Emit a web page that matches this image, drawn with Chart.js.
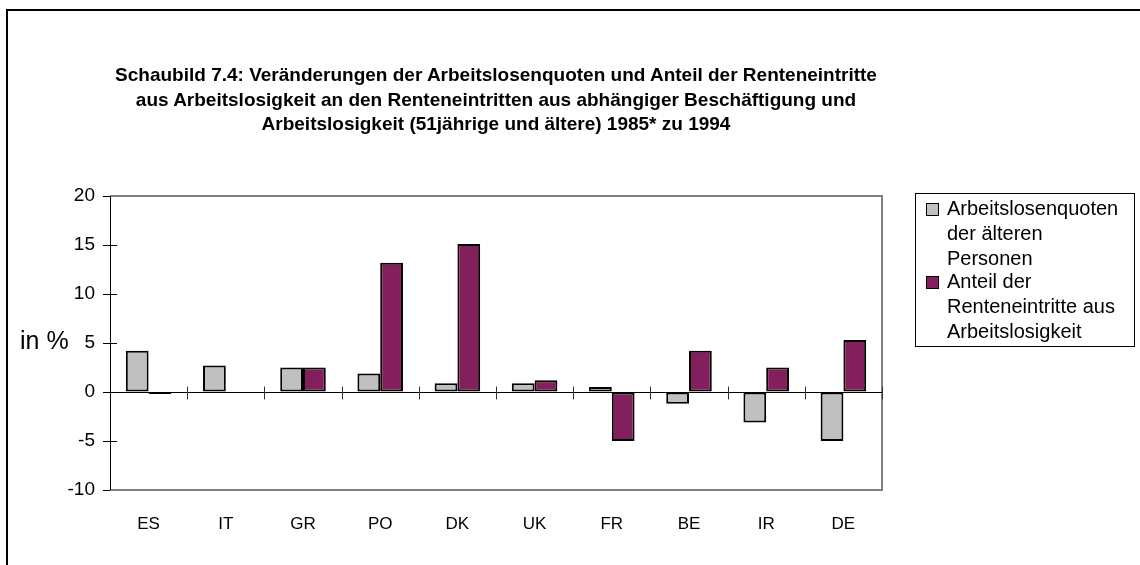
<!DOCTYPE html>
<html>
<head>
<meta charset="utf-8">
<script src="https://cdn.jsdelivr.net/npm/chart.js@4.4.1/dist/chart.umd.min.js"></script>
<style>
  html,body{margin:0;padding:0;background:#fff;}
  body{width:1140px;height:565px;overflow:hidden;position:relative;font-family:"Liberation Sans",Arial,sans-serif;color:#000;}
  #frame{position:absolute;left:6px;top:9px;width:1300px;height:700px;border-left:2px solid #000;border-top:2px solid #000;}
  #cv{position:absolute;left:0;top:0;}
  #title{position:absolute;left:0;top:63px;width:992px;text-align:center;font-weight:bold;font-size:19px;line-height:24.5px;}
  #ylab{position:absolute;left:20px;top:326px;font-size:25px;line-height:28px;white-space:nowrap;}
  #legend{position:absolute;left:915px;top:193px;width:220px;height:154px;border:1px solid #000;box-sizing:border-box;}
  .lg-item{position:absolute;left:0;width:220px;}
  .lg-box{position:absolute;left:10px;width:13px;height:13px;border:1px solid #000;box-sizing:border-box;}
  .lg-text{position:absolute;left:31px;font-size:20px;line-height:25px;white-space:nowrap;}
</style>
</head>
<body>
<div id="frame"></div>
<canvas id="cv" width="1140" height="565"></canvas>
<div id="title"></div>
<div id="ylab"></div>
<div id="legend"></div>
<script>
// ---- data ----
const categories = ['ES', 'IT', 'GR', 'PO', 'DK', 'UK', 'FR', 'BE', 'IR', 'DE'];
const unemploymentChange = [4.2, 2.7, 2.5, 1.9, 0.9, 0.9, 0.5, -1.2, -3.1, -5.0];
const retirementShare = [-0.2, null, 2.5, 13.2, 15.1, 1.2, -5.0, 4.2, 2.5, 5.3];
const yTickValues = [-10, -5, 0, 5, 10, 15, 20];
const seriesNames = [
  ['Arbeitslosenquoten', 'der älteren', 'Personen'],
  ['Anteil der', 'Renteneintritte aus', 'Arbeitslosigkeit']
];
const titleLines = [
  'Schaubild 7.4: Veränderungen der Arbeitslosenquoten und Anteil der Renteneintritte',
  'aus Arbeitslosigkeit an den Renteneintritten aus abhängiger Beschäftigung und',
  'Arbeitslosigkeit (51jährige und ältere) 1985* zu 1994'
];
const yAxisLabel = 'in %';
const colors = ['#C0C0C0', '#841F5D'];

// ---- text ----
document.getElementById('title').innerHTML = titleLines.map(t => '<div>' + t + '</div>').join('');
document.getElementById('ylab').textContent = yAxisLabel;
const legendEl = document.getElementById('legend');
const itemTops = [2, 75];
seriesNames.forEach((lines, i) => {
  const item = document.createElement('div');
  item.className = 'lg-item';
  item.style.top = itemTops[i] + 'px';
  const box = document.createElement('div');
  box.className = 'lg-box';
  box.style.top = '7px';
  box.style.background = colors[i];
  const txt = document.createElement('div');
  txt.className = 'lg-text';
  txt.style.top = '0px';
  txt.innerHTML = lines.map(l => '<div>' + l + '</div>').join('');
  item.appendChild(box);
  item.appendChild(txt);
  legendEl.appendChild(item);
});

// ---- plugin: plot frame, zero line with category ticks, y ticks ----
const decor = {
  id: 'decor',
  afterDatasetsDraw(chart) {
    const { ctx, chartArea: a, scales: { x, y } } = chart;
    ctx.save();
    ctx.strokeStyle = '#808080';
    ctx.lineWidth = 2;
    ctx.beginPath();
    ctx.moveTo(a.left, a.top);
    ctx.lineTo(a.right, a.top);
    ctx.lineTo(a.right, a.bottom);
    ctx.lineTo(a.left, a.bottom);
    ctx.stroke();
    ctx.strokeStyle = '#000';
    ctx.lineWidth = 1;
    ctx.beginPath();
    ctx.moveTo(a.left + 0.5, a.top);
    ctx.lineTo(a.left + 0.5, a.bottom);
    ctx.stroke();
    yTickValues.forEach(v => {
      const py = Math.round(y.getPixelForValue(v)) + 0.5;
      const edge = v === yTickValues[yTickValues.length - 1] || v === yTickValues[0];
      ctx.beginPath();
      ctx.moveTo(a.left - 7, py);
      ctx.lineTo(edge ? a.left : a.left + 7, py);
      ctx.stroke();
    });
    const y0 = Math.round(y.getPixelForValue(0)) + 0.5;
    ctx.beginPath();
    ctx.moveTo(a.left, y0);
    ctx.lineTo(a.right, y0);
    ctx.stroke();
    ctx.strokeStyle = '#333';
    const n = categories.length;
    const step = x.getPixelForValue(1) - x.getPixelForValue(0);
    for (let i = 1; i <= n; i++) {
      const px = Math.round(x.getPixelForValue(i - 1) + step / 2) + 0.5;
      ctx.beginPath();
      ctx.moveTo(px, y0 - 6);
      ctx.lineTo(px, y0 + 7);
      ctx.stroke();
    }
    ctx.restore();
  }
};

new Chart(document.getElementById('cv'), {
  type: 'bar',
  data: {
    labels: categories,
    datasets: [
      { label: seriesNames[0].join(' '), data: unemploymentChange, backgroundColor: colors[0], borderColor: '#000', borderWidth: 2, borderSkipped: false },
      { label: seriesNames[1].join(' '), data: retirementShare, backgroundColor: colors[1], borderColor: '#000', borderWidth: 2, borderSkipped: false }
    ]
  },
  options: {
    responsive: false,
    animation: false,
    devicePixelRatio: 1,
    layout: { padding: { left: 50, top: 196, right: 258, bottom: 0 } },
    plugins: { legend: { display: false }, tooltip: { enabled: false }, title: { display: false } },
    datasets: { bar: { categoryPercentage: 0.59, barPercentage: 1.0 } },
    scales: {
      x: {
        grid: { display: false },
        border: { display: false },
        ticks: { color: '#000', font: { family: '"Liberation Sans", Arial, sans-serif', size: 17 }, padding: 16, maxRotation: 0, autoSkip: false },
        afterFit: s => { s.height = 75; }
      },
      y: {
        min: -10, max: 20,
        grid: { display: true, drawOnChartArea: false, drawTicks: false },
        border: { display: false },
        ticks: { stepSize: 5, color: '#000', font: { family: '"Liberation Sans", Arial, sans-serif', size: 19 }, padding: 15 },
        afterFit: s => { s.width = 60; }
      }
    }
  },
  plugins: [decor]
});
</script>
</body>
</html>
